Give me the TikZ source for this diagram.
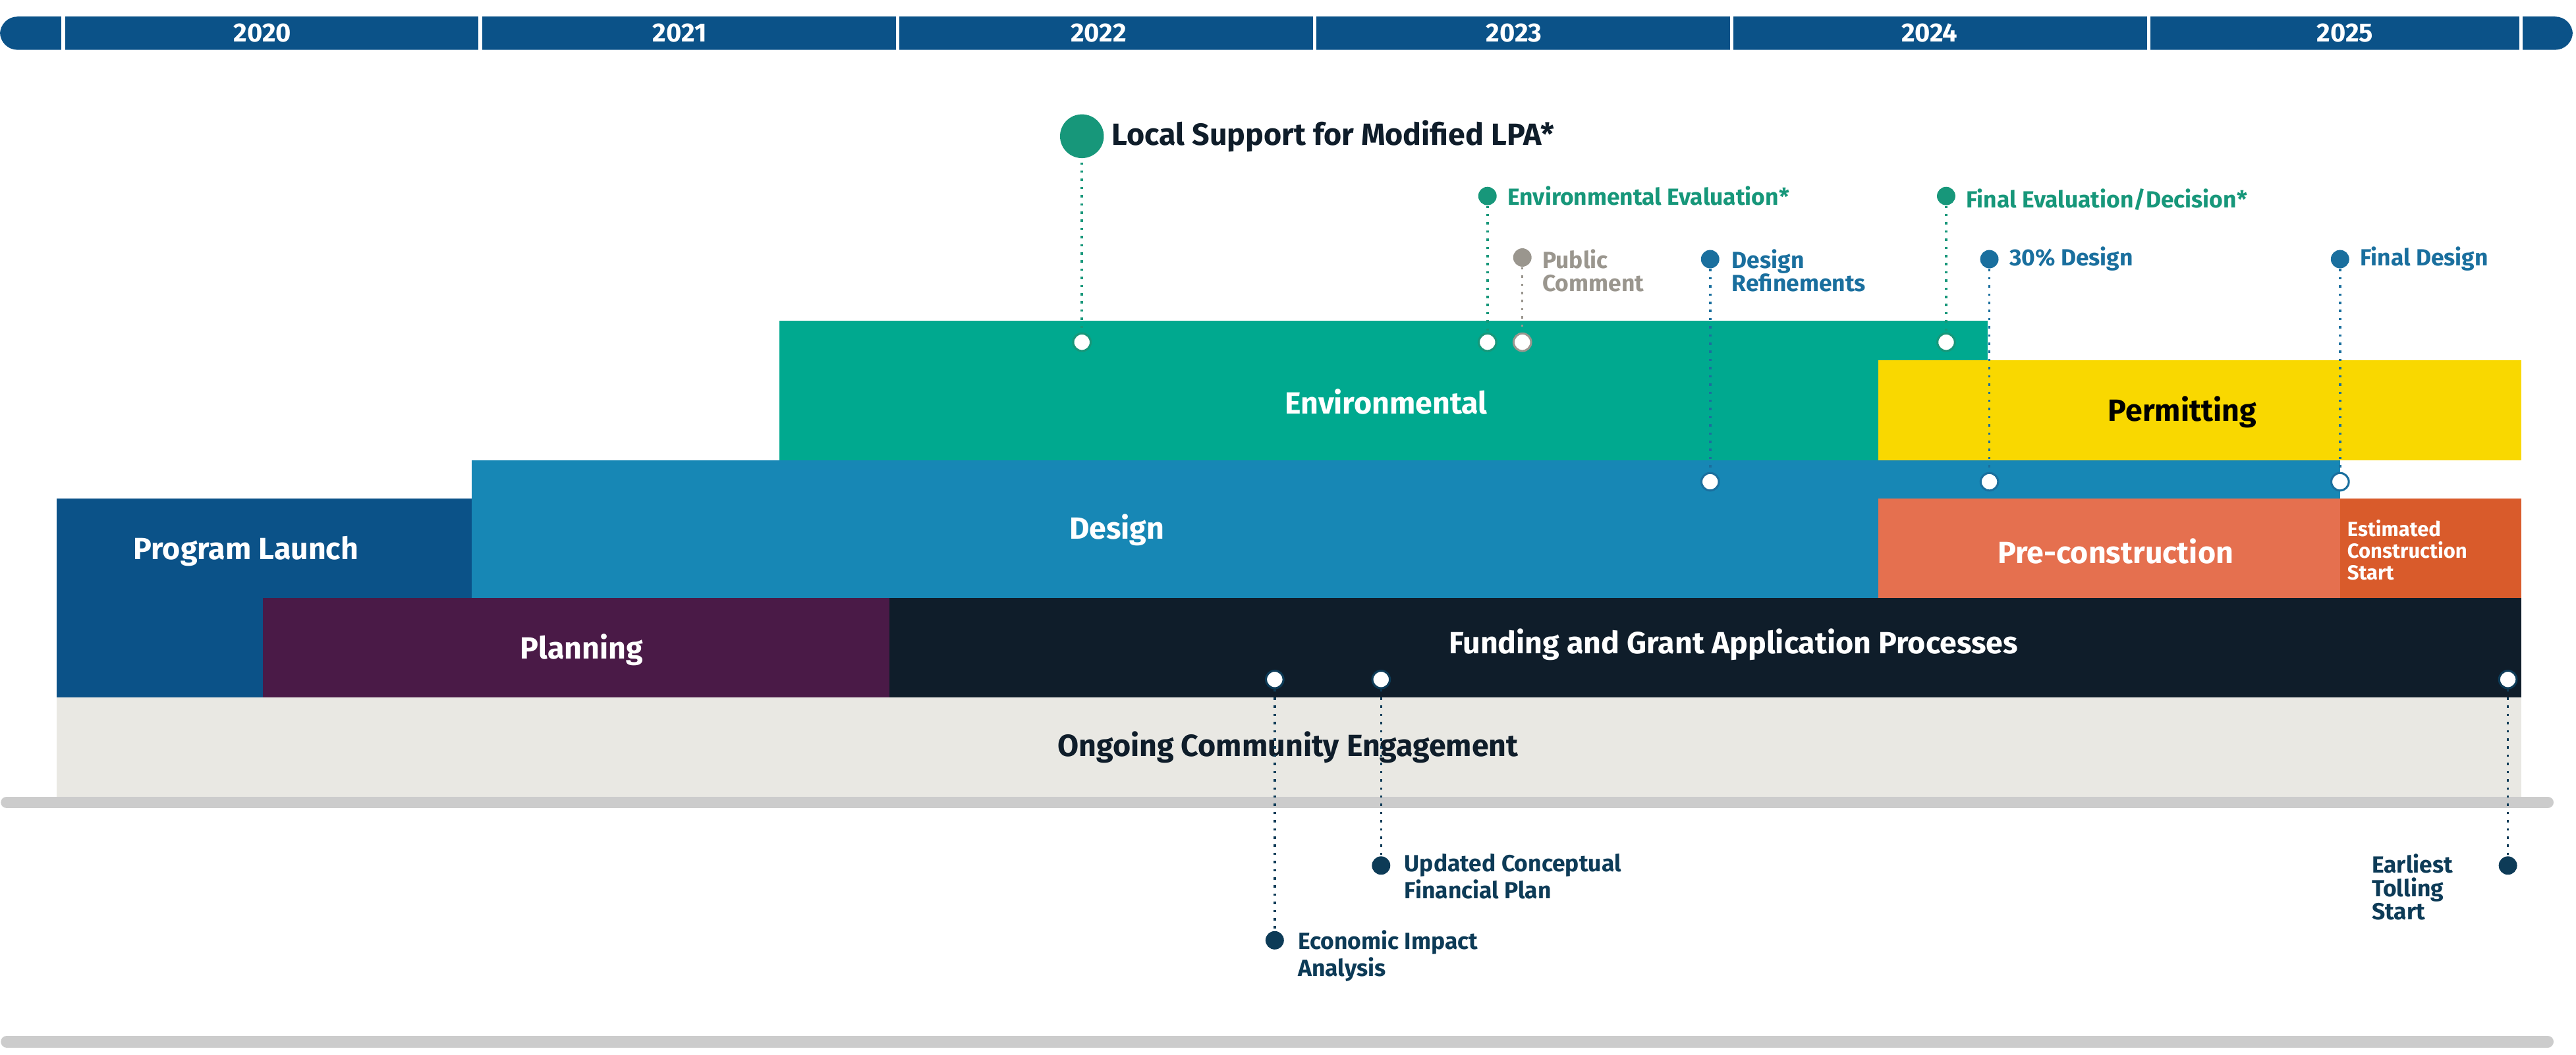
\documentclass[tikz,border=0pt]{standalone}
\usepackage{fontspec}
\setmainfont{Fira Sans}
\definecolor{navy}{HTML}{0B5288}
\definecolor{teal}{HTML}{00A98F}
\definecolor{yel}{HTML}{F9D800}
\definecolor{dblue}{HTML}{1787B5}
\definecolor{orng}{HTML}{E5704F}
\definecolor{rust}{HTML}{D95B2B}
\definecolor{purp}{HTML}{4A1A47}
\definecolor{ink}{HTML}{0F1D2A}
\definecolor{sand}{HTML}{E9E8E3}
\definecolor{mgreen}{HTML}{17977A}
\definecolor{mblue}{HTML}{1A6F9E}
\definecolor{mgray}{HTML}{9A968E}
\definecolor{mdark}{HTML}{0D3B57}
\tikzset{
  dot/.style={circle,fill=#1,inner sep=0pt,minimum size=14pt*0.45},
  hole/.style={circle,fill=white,draw=#1,line width=0.7pt,inner sep=0pt,minimum size=6pt},
  stem/.style={dotted,line width=0.8pt,#1},
  lab/.style={font=\bfseries\fontsize{8}{8}\selectfont,text=#1,align=left,inner sep=1pt},
  barlab/.style={font=\bfseries\fontsize{10.5}{11}\selectfont,text=white}
}
\begin{document}
\begin{tikzpicture}[x=0.02cm, y=-0.02cm]
  \useasboundingbox (0,0) rectangle (1550,635);
  % timeline header
  \fill[navy,rounded corners=6pt] (0,10) rectangle (1548,30);
  \foreach \x in {38,289,540,791,1042,1293,1517}
    \draw[white,line width=1.2pt] (\x,10) -- (\x,30);
  \foreach \x/\yr in {158/2020,409/2021,661/2022,911/2023,1161/2024,1411/2025}
    \node[font=\bfseries\fontsize{9}{9}\selectfont,text=white] at (\x,20) {\yr};
  % bars
  \fill[sand] (34,420) rectangle (1517,480);
  \fill[teal] (469,193) rectangle (1196,277);
  \fill[yel] (1130,217) rectangle (1517,277);
  \fill[dblue] (284,277) rectangle (1408,360);
  \fill[orng] (1130,300) rectangle (1408,360);
  \fill[rust] (1408,300) rectangle (1517,360);
  \fill[navy] (34,300) rectangle (284,420);
  \fill[purp] (158,360) rectangle (535,420);
  \fill[ink] (535,360) rectangle (1517,420);
  \node[barlab] (env) at (834,242) {Environmental};
  \node[barlab,text=black] (perm) at (1313,248) {Permitting};
  \node[barlab] (des) at (672,319) {Design};
  \node[barlab] (pre) at (1273,332) {Pre-construction};
  \node[font=\bfseries\fontsize{7}{7.5}\selectfont,text=white,align=left,anchor=west,inner sep=0pt] (ecs) at (1412,331) {Estimated\\Construction\\Start};
  \node[barlab] (prog) at (148,332) {Program Launch};
  \node[barlab] (plan) at (350,391) {Planning};
  \node[barlab] (fund) at (1043,388) {Funding and Grant Application Processes};
  \node[barlab,text=ink] (ong) at (775,450) {Ongoing Community Engagement};
  \draw[line width=4pt,color=black!20,line cap=round] (4,483) -- (1533,483);
  \draw[line width=4pt,color=black!20,line cap=round] (4,627) -- (1533,627);
  % milestones above
  \foreach \n/\x/\ya/\yb/\c in {lsp/651/82/206/mgreen, eev/895/118/206/mgreen,
      pub/916/155/206/mgray, dref/1029/156/290/mblue, fev/1171/118/206/mgreen,
      thd/1197/156/290/mblue, fde/1408/156/290/mblue}
  {
    \node[dot=\c] (\n) at (\x,\ya) {};
    \node[hole=\c] (\n e) at (\x,\yb) {};
    \draw[stem=\c] (\n) -- (\n e);
  }
  \node[dot=mgreen,minimum size=15pt] (lsp) at (651,82) {};
  \node[lab=ink,font=\bfseries\fontsize{10.5}{11}\selectfont,anchor=west] at (667,82) {Local Support for Modified LPA*};
  \node[lab=mgreen,anchor=west] at (905,118) {Environmental Evaluation*};
  \node[lab=mgray,anchor=north west] at (926,148) {Public\\Comment};
  \node[lab=mblue,anchor=north west] at (1040,148) {Design\\Refinements};
  \node[lab=mgreen,anchor=west] at (1181,120) {Final Evaluation/Decision*};
  \node[lab=mblue,anchor=west] at (1207,156) {30\% Design};
  \node[lab=mblue,anchor=west] at (1418,156) {Final Design};
  % milestones below
  \foreach \n/\x/\y in {eia/767/566, ucf/831/521, ets/1509/521}
  {
    \node[hole=mdark] (\n s) at (\x,409) {};
    \node[dot=mdark] (\n) at (\x,\y) {};
    \draw[stem=mdark] (\n s) -- (\n);
  }
  \node[lab=mdark,anchor=north west] at (779,558) {Economic Impact\\Analysis};
  \node[lab=mdark,anchor=north west] at (843,512) {Updated Conceptual\\Financial Plan};
  \node[lab=mdark,anchor=north west] at (1425,512) {Earliest\\Tolling\\Start};
\end{tikzpicture}
\end{document}
